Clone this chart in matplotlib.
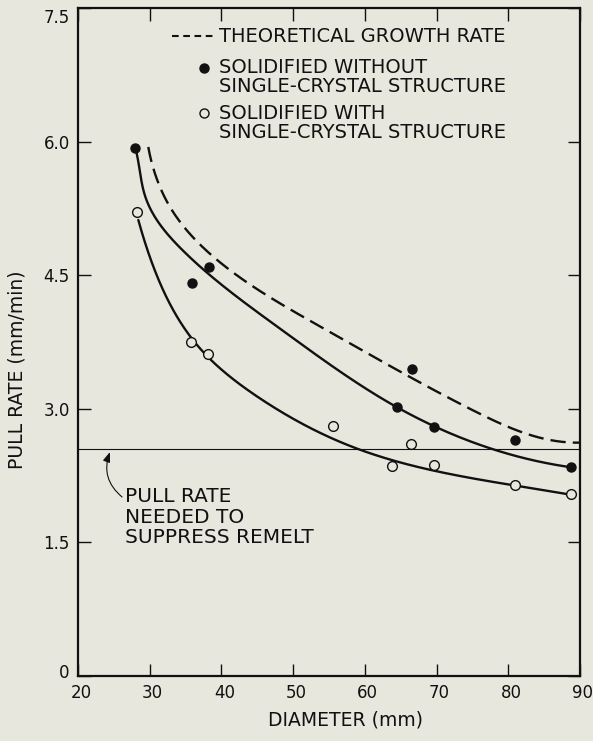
import matplotlib
matplotlib.use("Agg")
import matplotlib.pyplot as plt
import matplotlib.transforms as mtransforms
import numpy as np

# ---- data ----
filled_x = [28.0, 35.9, 38.2, 64.5, 66.6, 69.7, 80.9, 88.7]
filled_y = [5.93, 4.41, 4.59, 3.02, 3.45, 2.80, 2.65, 2.35]

open_x = [28.2, 35.7, 38.1, 55.5, 63.8, 66.4, 69.7, 80.9, 88.7]
open_y = [5.21, 3.75, 3.62, 2.81, 2.36, 2.61, 2.37, 2.14, 2.04]

# hand-drawn curve for "without single-crystal" (solid upper), points traced from it
without_cx = [28.05, 28.32, 28.65, 29.34, 30.50, 32.13, 34.46, 37.71, 41.66, 48.17,
              53.98, 59.32, 64.44, 69.68, 77.45, 84.42, 89.07]
without_cy = [5.91, 5.79, 5.64, 5.42, 5.20, 4.97, 4.78, 4.56, 4.30, 3.89,
              3.55, 3.29, 3.02, 2.79, 2.56, 2.41, 2.34]

# hand-drawn curve for "with single-crystal" (solid lower)
with_cx = [28.41, 29.11, 30.04, 31.43, 33.29, 34.99, 37.01, 39.34, 42.13, 45.38,
           50.02, 54.68, 58.86, 63.97, 69.68, 80.94, 89.07]
with_cy = [5.12, 4.90, 4.70, 4.45, 4.11, 3.84, 3.67, 3.51, 3.32, 3.12,
           2.87, 2.69, 2.55, 2.43, 2.31, 2.13, 2.03]

# theoretical growth rate (dashed)
theo_x = [29.80, 30.28, 31.20, 32.59, 34.46, 36.78, 39.10, 43.52, 47.71, 53.75,
          60.72, 66.62, 75.12, 79.31, 83.03, 86.75, 90.0]
theo_y = [5.94, 5.76, 5.53, 5.31, 5.08, 4.86, 4.67, 4.43, 4.22, 3.92,
          3.60, 3.34, 2.99, 2.82, 2.70, 2.64, 2.62]

remelt_rate = 2.55

xticks = [20, 30, 40, 50, 60, 70, 80, 90]
yticks = [0, 1.5, 3.0, 4.5, 6.0, 7.5]
ytick_labels = ["0", "1.5", "3.0", "4.5", "6.0", "7.5"]

legend_labels = ["THEORETICAL GROWTH RATE",
                 "SOLIDIFIED WITHOUT\nSINGLE-CRYSTAL STRUCTURE",
                 "SOLIDIFIED WITH\nSINGLE-CRYSTAL STRUCTURE"]
note_text = "PULL RATE\nNEEDED TO\nSUPPRESS REMELT"

# ---- figure ----
bg = "#e7e7de"
ink = "#111111"
W, H = 593, 741
fig = plt.figure(figsize=(W / 100, H / 100), dpi=100, facecolor=bg)
ax = fig.add_axes([78 / W, 1 - 676 / H, (580 - 78) / W, (676 - 8) / H])
ax.set_facecolor(bg)
ax.set_xlim(20, 90)
ax.set_ylim(0, 7.5)


def bspline_basis(t, knots, k=3):
    t = np.asarray(t, float)
    m = len(knots) - 1
    n = len(knots) - k - 1
    B = np.zeros((len(t), m))
    for i in range(m):
        B[:, i] = (knots[i] <= t) & (t < knots[i + 1])
    B[t >= knots[-1], n - 1] = 1.0
    for d in range(1, k + 1):
        Bn = np.zeros((len(t), m))
        for i in range(m - d):
            left = 0.0
            right = 0.0
            if knots[i + d] != knots[i]:
                left = (t - knots[i]) / (knots[i + d] - knots[i]) * B[:, i]
            if knots[i + d + 1] != knots[i + 1]:
                right = (knots[i + d + 1] - t) / (knots[i + d + 1] - knots[i + 1]) * B[:, i + 1]
            Bn[:, i] = left + right
        B = Bn
    return B[:, :n]


def smooth_curve(xs, ys, knot_idx, n=400):
    # least-squares cubic B-spline through the traced points, in display space
    pts = ax.transData.transform(np.column_stack([xs, ys]))
    d = np.sqrt((np.diff(pts, axis=0) ** 2).sum(axis=1))
    t = np.concatenate([[0], np.cumsum(d)])
    T = t[-1]
    knots = np.concatenate([[0] * 4, t[knot_idx], [T] * 4])
    B = bspline_basis(t, knots)
    w = np.ones(len(t))
    w[0] = w[-1] = 20.0
    cx = np.linalg.lstsq(B * w[:, None], pts[:, 0] * w, rcond=None)[0]
    cy = np.linalg.lstsq(B * w[:, None], pts[:, 1] * w, rcond=None)[0]
    tt = np.linspace(0, T, n)
    Bt = bspline_basis(tt, knots)
    out = ax.transData.inverted().transform(np.column_stack([Bt @ cx, Bt @ cy]))
    return out[:, 0], out[:, 1]


kidx = [3, 6, 9, 12]
sx, sy = smooth_curve(without_cx, without_cy, kidx)
ax.plot(sx, sy, color=ink, lw=1.7, solid_capstyle="round")
sx, sy = smooth_curve(with_cx, with_cy, kidx)
ax.plot(sx, sy, color=ink, lw=1.7, solid_capstyle="round")
sx, sy = smooth_curve(theo_x, theo_y, kidx)
ax.plot(sx, sy, color=ink, lw=1.7, linestyle=(0, (6.5, 3.0)))

ax.axhline(remelt_rate, color=ink, lw=0.8)

ax.plot(filled_x, filled_y, "o", color=ink, ms=6.5, zorder=5)
ax.plot(open_x, open_y, "o", mfc=bg, mec=ink, mew=1.0, ms=7, zorder=5)

ax.set_xticks(xticks)
ax.set_yticks(yticks)
ax.set_yticklabels(ytick_labels)
ax.tick_params(direction="in", length=9, width=1.0, top=True, right=True,
               labelsize=12, colors=ink, pad=6)
for s in ax.spines.values():
    s.set_linewidth(1.6)
    s.set_color(ink)

# end labels sit slightly inside the frame in the reference
ylabels = ax.get_yticklabels()
ylabels[0].set_transform(ylabels[0].get_transform()
                         + mtransforms.ScaledTranslation(0, 5 / 100, fig.dpi_scale_trans))
ylabels[-1].set_transform(ylabels[-1].get_transform()
                          + mtransforms.ScaledTranslation(0, -8 / 100, fig.dpi_scale_trans))
for lab in ax.get_xticklabels():
    lab.set_transform(lab.get_transform()
                      + mtransforms.ScaledTranslation(3 / 100, 0, fig.dpi_scale_trans))

ax.text((17 - 78) / 502, (676 - 370) / 668, "PULL RATE (mm/min)", transform=ax.transAxes,
        rotation=90, ha="center", va="center", fontsize=13.5, color=ink)
ax.text((345 - 78) / 502, (676 - 720) / 668, "DIAMETER (mm)", transform=ax.transAxes,
        ha="center", va="center", fontsize=13.5, color=ink)

# legend drawn by hand
tA = ax.transAxes


def ax_xy(px, py):
    return ((px - 78) / (580 - 78), (676 - py) / (676 - 8))


x0, y0 = ax_xy(172, 36)
x1, _ = ax_xy(214, 36)
ax.plot([x0, x1], [y0, y0], transform=tA, color=ink, lw=1.5, linestyle=(0, (3.2, 2.2)))
tx, _ = ax_xy(219, 0)
ax.text(tx, y0, legend_labels[0], transform=tA, fontsize=14, va="center", ha="left", color=ink)
mx, my = ax_xy(204, 68)
ax.plot([mx], [my], "o", transform=tA, color=ink, ms=6.5)
_, ty = ax_xy(0, 77)
ax.text(tx, ty, legend_labels[1], transform=tA, fontsize=14, va="center", ha="left",
        color=ink, linespacing=1.05)
mx, my = ax_xy(204, 113)
ax.plot([mx], [my], "o", transform=tA, mfc=bg, mec=ink, mew=1.0, ms=6.5)
_, ty = ax_xy(0, 123)
ax.text(tx, ty, legend_labels[2], transform=tA, fontsize=14, va="center", ha="left",
        color=ink, linespacing=1.05)

# annotation
ax.annotate("", xy=(24.46, 2.515), xytext=(26.14, 2.01),
            arrowprops=dict(arrowstyle="-|>,head_length=0.6,head_width=0.22", color=ink,
                            lw=0.8, shrinkA=0, shrinkB=0,
                            connectionstyle="arc3,rad=-0.35"))
ax.text(26.5, 1.78, note_text, fontsize=14.5, color=ink, ha="left", va="center",
        linespacing=1.1)

fig.savefig("out.png", dpi=100, facecolor=bg)
